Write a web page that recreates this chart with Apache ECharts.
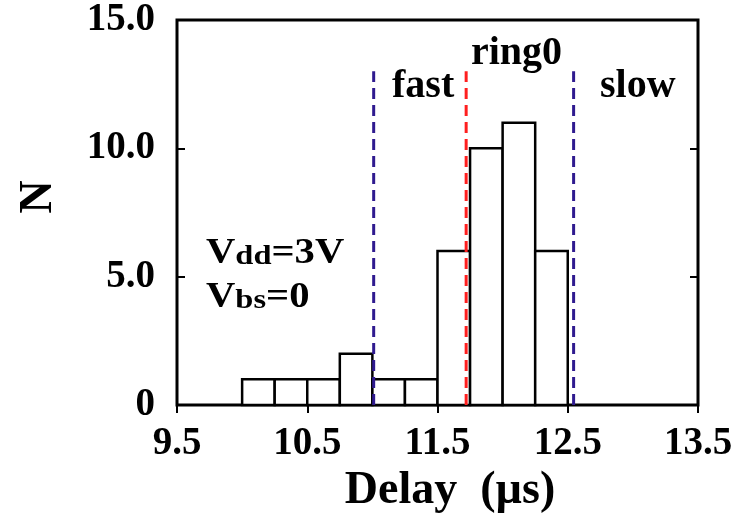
<!DOCTYPE html>
<html><head><meta charset="utf-8">
<script src="https://cdn.jsdelivr.net/npm/echarts@6/dist/echarts.min.js"></script>
<style>html,body{margin:0;padding:0;background:#fff}#c{width:747px;height:515px}</style>
</head><body><div id="c"></div>
<script>
// ---- data ----
const binStarts = [10.0, 10.25, 10.5, 10.75, 11.0, 11.25, 11.5, 11.75, 12.0, 12.25];
const binWidth = 0.25;
const counts = [1, 1, 1, 2, 1, 1, 6, 10, 11, 6];
const xTicks = [9.5, 10.5, 11.5, 12.5, 13.5];
const yTicks = [0, 5, 10, 15];
const dividerX = [11.01, 11.72, 12.545];
const dividerTop = 13.0;
const regionLabels = ['fast', 'ring0', 'slow'];
const xTitle = 'Delay  (\u00b5s)';
const yTitle = 'N';

// ---- styles ----
const FONT = '"Liberation Serif", "Times New Roman", serif';
const dividerColors = ['#2f1a8f', '#ff1f1f', '#2f1a8f'];

const chart = echarts.init(document.getElementById('c'), null, {renderer: 'canvas'});
const histData = binStarts.map((s, i) => [s, s + binWidth, counts[i]]);

const dividerSeries = dividerX.map((x, i) => ({
  type: 'line', xAxisIndex: 0, yAxisIndex: 0, symbol: 'none', silent: true, z: 5,
  data: [[x, 0], [x, dividerTop]],
  lineStyle: {color: dividerColors[i], width: 3, type: [11, 6]}
}));

const labelStyle = {fontFamily: FONT, fontWeight: 'bold', fontSize: 40, fill: '#000'};
const richV = {
  v: {fontFamily: FONT, fontWeight: 'bold', fontSize: 35, lineHeight: 40, verticalAlign: 'bottom'},
  s: {fontFamily: FONT, fontWeight: 'bold', fontSize: 28, lineHeight: 14, verticalAlign: 'bottom'}
};

chart.setOption({
  backgroundColor: '#fff',
  animation: false,
  grid: {left: 177, right: 49, top: 20, bottom: 110, containLabel: false, outerBoundsMode: 'none',
         show: true, borderColor: '#000', borderWidth: 3, backgroundColor: 'transparent'},
  xAxis: [{
    type: 'value', min: 9.5, max: 13.5, interval: 0.5, position: 'bottom',
    name: xTitle, nameLocation: 'middle', nameGap: 62,
    nameTextStyle: {fontFamily: FONT, fontWeight: 'bold', fontSize: 46, color: '#000', padding: [0, 0, 0, 25]},
    axisLine: {show: false}, splitLine: {show: false},
    axisTick: {show: true, inside: true, length: 8, customValues: xTicks, lineStyle: {color: '#000', width: 2}},
    axisLabel: {show: true, customValues: xTicks, margin: 19, fontFamily: FONT, fontWeight: 'bold', fontSize: 39, color: '#000', formatter: v => v.toFixed(1)}
  }, {
    type: 'value', min: 9.5, max: 13.5, interval: 0.5, position: 'top',
    axisLine: {show: false}, splitLine: {show: false}, axisLabel: {show: false},
    axisTick: {show: true, inside: true, length: 8, customValues: xTicks, lineStyle: {color: '#000', width: 2}}
  }],
  yAxis: [{
    type: 'value', min: 0, max: 15, interval: 5, position: 'left',
    axisLine: {show: false}, splitLine: {show: false},
    axisTick: {show: true, inside: true, length: 8, lineStyle: {color: '#000', width: 2}},
    axisLabel: {show: true, margin: 22, fontFamily: FONT, fontWeight: 'bold', fontSize: 39, color: '#000', formatter: v => v === 0 ? '0' : v.toFixed(1)}
  }, {
    type: 'value', min: 0, max: 15, interval: 5, position: 'right',
    axisLine: {show: false}, splitLine: {show: false}, axisLabel: {show: false},
    axisTick: {show: true, inside: true, length: 8, lineStyle: {color: '#000', width: 2}}
  }],
  series: [{
    type: 'custom', xAxisIndex: 0, yAxisIndex: 0, z: 3,
    data: histData,
    encode: {x: [0, 1], y: 2},
    renderItem: function (params, api) {
      const p0 = api.coord([api.value(0), 0]);
      const p1 = api.coord([api.value(1), api.value(2)]);
      return {
        type: 'rect',
        shape: {x: p0[0], y: p1[1], width: p1[0] - p0[0], height: p0[1] - p1[1]},
        style: {fill: '#fff', stroke: '#000', lineWidth: 2.5}
      };
    }
  }].concat(dividerSeries),
  graphic: [
    {type: 'text', x: 39, y: 197, rotation: Math.PI / 2, style: Object.assign({}, labelStyle, {text: yTitle, fontSize: 46, align: 'center', verticalAlign: 'middle'})},
    {type: 'text', x: 392, y: 67, style: Object.assign({}, labelStyle, {text: regionLabels[0]})},
    {type: 'text', x: 471, y: 34, style: Object.assign({}, labelStyle, {text: regionLabels[1]})},
    {type: 'text', x: 600, y: 67, style: Object.assign({}, labelStyle, {text: regionLabels[2]})},
    {type: 'text', x: 206, y: 231, scaleX: 1.16, style: {
      text: '{v|V}{s|dd}{v|=3V}', fontFamily: FONT, fontWeight: 'bold', fill: '#000', rich: richV}},
    {type: 'text', x: 206, y: 275, scaleX: 1.16, style: {
      text: '{v|V}{s|bs}{v|=0}', fontFamily: FONT, fontWeight: 'bold', fill: '#000', rich: richV}}
  ]
});
</script></body></html>
